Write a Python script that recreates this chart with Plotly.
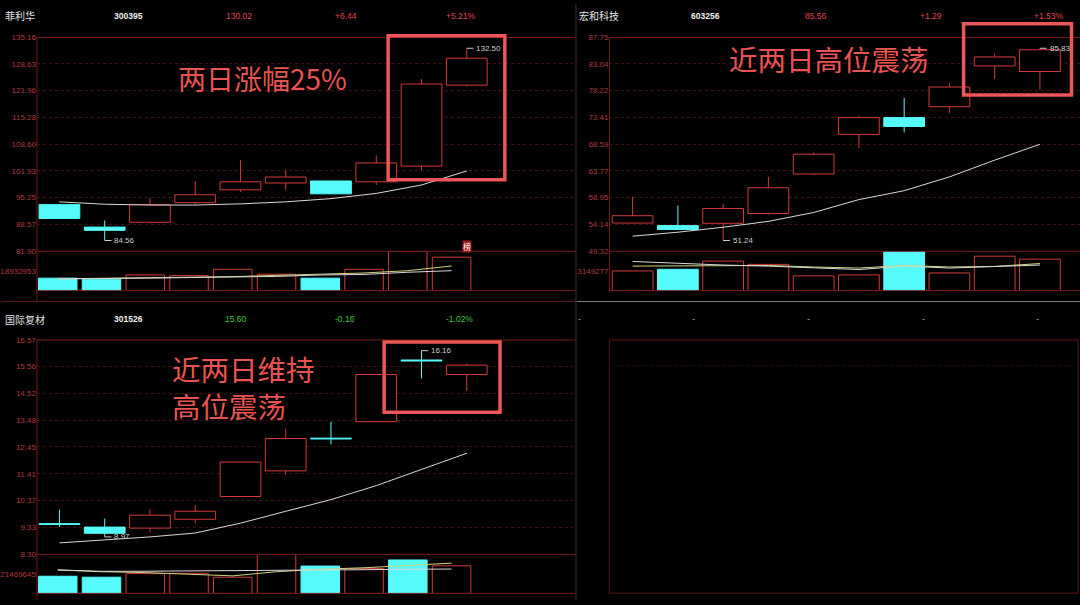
import plotly.graph_objects as go

W, H = 1080, 605

days = list(range(10))

# ---- 菲利华 300395 ----
flh_header = ["菲利华", "300395", "130.02", "+6.44", "+5.21%"]
flh_open  = [93.50, 87.90, 89.10, 94.00, 97.20, 98.90, 99.40, 99.20, 103.10, 123.30]
flh_high  = [93.50, 89.56, 95.20, 99.40, 104.60, 102.10, 99.40, 105.80, 124.80, 132.50]
flh_low   = [90.05, 84.56, 88.80, 93.50, 96.70, 97.20, 96.20, 98.40, 102.10, 123.00]
flh_close = [90.05, 87.09, 93.50, 95.96, 99.20, 100.40, 96.20, 103.90, 123.58, 130.02]
flh_ma    = [94.2, 93.6, 93.4, 93.4, 93.7, 94.2, 95.0, 96.3, 98.4, 101.9]
flh_vol   = [12020000, 11080000, 15150000, 14480000, 20540000, 15810000, 12020000, 20540000, 37860000, 32190000]
flh_vma_w = [11360000, 11500000, 12000000, 12600000, 13000000, 13700000, 15100000, 15600000, 17700000, 19200000]
flh_vma_y = [11360000, 11800000, 12500000, 13250000, 13500000, 14700000, 16100000, 17000000, 19200000, 23700000]
flh_ticks = [81.90, 88.57, 95.25, 101.93, 108.60, 115.28, 121.96, 128.63, 135.16]
flh_vol_tick = 18932953

# ---- 宏和科技 603256 ----
hh_header = ["宏和科技", "603256", "85.56", "+1.29", "+1.53%"]
hh_open  = [54.38, 53.92, 54.33, 56.10, 63.20, 70.33, 73.35, 75.31, 82.65, 81.65]
hh_high  = [59.13, 57.53, 57.88, 62.68, 67.10, 73.70, 76.91, 79.50, 84.91, 85.83]
hh_low   = [54.38, 53.21, 51.24, 55.90, 63.00, 67.84, 70.68, 74.20, 80.34, 78.38]
hh_close = [55.70, 53.21, 57.00, 60.73, 66.77, 73.35, 71.75, 78.86, 84.27, 85.56]
hh_ma    = [52.02, 52.73, 53.62, 54.68, 56.28, 58.60, 60.20, 62.68, 65.70, 68.55]
hh_vol   = [13150000, 14270000, 19720000, 17550000, 9860000, 10520000, 26290000, 11830000, 23010000, 21040000]
hh_vma_w = [19500000, 18100000, 17100000, 16400000, 15450000, 14100000, 16400000, 15100000, 16100000, 17100000]
hh_vma_y = [16400000, 16600000, 16900000, 16800000, 15800000, 15100000, 16800000, 15800000, 16200000, 18100000]
hh_ticks = [49.32, 54.14, 58.95, 63.77, 68.59, 73.41, 78.22, 83.04, 87.75]
hh_vol_tick = 13149277

# ---- 国际复材 301526 ----
gj_header = ["国际复材", "301526", "15.60", "-0.16", "-1.02%"]
gj_open  = [9.45, 9.35, 9.31, 9.65, 10.53, 11.52, 12.77, 13.42, 15.80, 15.24]
gj_high  = [10.02, 9.68, 10.04, 10.19, 11.86, 13.15, 13.42, 15.24, 16.16, 15.66]
gj_low   = [9.35, 8.97, 9.15, 9.50, 10.53, 11.36, 12.54, 13.42, 15.09, 14.60]
gj_close = [9.45, 9.11, 9.81, 9.96, 11.86, 12.77, 12.75, 15.24, 15.76, 15.60]
gj_ma    = [8.74, 8.86, 8.97, 9.12, 9.50, 9.96, 10.41, 10.95, 11.59, 12.20]
gj_vol   = [18890000, 17820000, 21790000, 22110000, 17820000, 42930000, 30060000, 27480000, 36820000, 30380000]
gj_vma_w = [25800000, 24300000, 24400000, 24600000, 24700000, 25000000, 25800000, 26100000, 26600000, 26800000]
gj_vma_y = [25800000, 23900000, 22900000, 21300000, 19300000, 23900000, 26600000, 28200000, 30400000, 33300000]
gj_ticks = [8.30, 9.33, 10.37, 11.41, 12.45, 13.48, 14.52, 15.56, 16.57]
gj_vol_tick = 21469645

# callout texts
note_tl = "两日涨幅25%"
note_tr = "近两日高位震荡"
note_bl = ["近两日维持", "高位震荡"]

# ---------------- style ----------------
RED = "#d23a3a"
CYAN = "#55fafa"
WHITE_LINE = "#d9d9d9"
YELLOW_LINE = "#d2d27c"
TICK_RED = "#b3393a"
FRAME = "#731b1b"
GRID = "#3e1010"
HILITE = "#ec5656"
CALLOUT = "#ea5450"
LABEL = "#cfcfcf"
NUMFONT = "Liberation Sans, Arial, sans-serif"
CJK = "Noto Sans CJK SC, sans-serif"

TL = dict(left=36, right=575, ptop=34, pbot=251, vbot=291, c0=58.5, cstep=45.3, v0=56.8, vstep=43.8)
TR = dict(left=609, right=1080, ptop=34, pbot=251, vbot=291, c0=632.2, cstep=45.3, v0=632.2, vstep=45.3)
BL = dict(left=36, right=575, ptop=341, pbot=558.7, vbot=598.3, c0=58.5, cstep=45.3, v0=56.8, vstep=43.8)

fig = go.Figure()
axes = {}
shapes = []
annots = []


def akey(ref):
    return ("xaxis" if ref[0] == "x" else "yaxis") + ref[1:]


def px(p):
    return p / W


def py(p):
    return 1 - p / H


def hline(y, x0, x1, color, width=1, dash="solid"):
    shapes.append(dict(type="line", xref="paper", yref="paper", x0=px(x0), x1=px(x1),
                       y0=py(y), y1=py(y), line=dict(color=color, width=width, dash=dash), layer="above"))


def vline(x, y0, y1, color, width=1):
    shapes.append(dict(type="line", xref="paper", yref="paper", x0=px(x), x1=px(x),
                       y0=py(y0), y1=py(y1), line=dict(color=color, width=width), layer="above"))


def panel(g, xc, xv, yp, yv, o, h, l, c, ma, vol, vw, vy, ticks, vtick, vbar_w, marks):
    span = ticks[-1] - ticks[0]
    axes[akey(xc)] = dict(domain=[px(g["left"]), px(g["right"])],
                          range=[(g["left"] - g["c0"]) / g["cstep"], (g["right"] - g["c0"]) / g["cstep"]],
                          visible=False, anchor=yp, fixedrange=True)
    if xv != xc:
        axes[akey(xv)] = dict(domain=[px(g["left"]), px(g["right"])],
                              range=[(g["left"] - g["v0"]) / g["vstep"], (g["right"] - g["v0"]) / g["vstep"]],
                              visible=False, anchor=yv, fixedrange=True)
    axes[akey(yp)] = dict(domain=[py(g["pbot"]), py(g["ptop"])],
                          range=[ticks[0] - span * 0.0005, ticks[-1] + span * 0.0005],
                          anchor=xc, tickvals=ticks, ticktext=[f"{t:.2f}" for t in ticks],
                          showgrid=True, gridcolor=GRID, griddash="dot", gridwidth=1,
                          zeroline=False, showline=False, ticks="",
                          tickfont=dict(size=8, color=TICK_RED, family=NUMFONT), fixedrange=True)
    axes[akey(yv)] = dict(domain=[py(g["vbot"]), py(g["pbot"])], range=[0, 2 * vtick],
                          anchor=xv, tickvals=[vtick], ticktext=[str(vtick)],
                          showgrid=False, zeroline=False, showline=False, ticks="",
                          tickfont=dict(size=8, color=TICK_RED, family=NUMFONT), fixedrange=True)

    n = len(o)
    up = [c[i] > o[i] for i in range(n)]
    # wicks
    for flag, col in ((True, RED), (False, CYAN)):
        xs, ys = [], []
        for i in range(n):
            if up[i] != flag:
                continue
            top, bot = max(o[i], c[i]), min(o[i], c[i])
            if h[i] > top:
                xs += [days[i], days[i], None]
                ys += [top, h[i], None]
            if l[i] < bot:
                xs += [days[i], days[i], None]
                ys += [l[i], bot, None]
        fig.add_trace(go.Scatter(x=xs, y=ys, mode="lines", line=dict(color=col, width=1),
                                 xaxis=xc, yaxis=yp, hoverinfo="skip"))
    # bodies and volume
    min_body = span * 0.004
    for flag, fill, col in ((True, "#000000", RED), (False, CYAN, CYAN)):
        sel = [i for i in range(n) if up[i] == flag]
        fig.add_trace(go.Bar(x=[days[i] for i in sel],
                             y=[max(abs(c[i] - o[i]), min_body) for i in sel],
                             base=[min(o[i], c[i]) for i in sel], width=0.9,
                             marker=dict(color=fill, line=dict(color=col, width=1)),
                             xaxis=xc, yaxis=yp, hoverinfo="skip"))
        fig.add_trace(go.Bar(x=[days[i] for i in sel], y=[vol[i] for i in sel], width=vbar_w,
                             marker=dict(color=fill, line=dict(color=col, width=1)),
                             xaxis=xv, yaxis=yv, hoverinfo="skip"))
    # moving averages
    fig.add_trace(go.Scatter(x=days, y=ma, mode="lines", line=dict(color=WHITE_LINE, width=1),
                             xaxis=xc, yaxis=yp, hoverinfo="skip"))
    fig.add_trace(go.Scatter(x=days, y=vy, mode="lines", line=dict(color=YELLOW_LINE, width=1),
                             xaxis=xv, yaxis=yv, hoverinfo="skip"))
    fig.add_trace(go.Scatter(x=days, y=vw, mode="lines", line=dict(color=WHITE_LINE, width=1),
                             xaxis=xv, yaxis=yv, hoverinfo="skip"))
    # high / low marks
    for i, v in marks:
        shapes.append(dict(type="line", xref=xc, yref=yp, x0=days[i], x1=days[i] + 0.15, y0=v, y1=v,
                           line=dict(color=LABEL, width=1)))
        annots.append(dict(xref=xc, yref=yp, x=days[i] + 0.17, y=v, text=f"{v:.2f}", showarrow=False,
                           xanchor="left", yanchor="middle", font=dict(size=8, color=LABEL, family=NUMFONT)))
    # frame lines
    for yy in (g["ptop"], g["pbot"], g["vbot"]):
        hline(yy, g["left"], g["right"], FRAME)


panel(TL, "x", "x2", "y", "y2", flh_open, flh_high, flh_low, flh_close, flh_ma, flh_vol,
      flh_vma_w, flh_vma_y, flh_ticks, flh_vol_tick, 0.88, [(1, flh_low[1]), (9, flh_high[9])])
panel(TR, "x3", "x3", "y3", "y4", hh_open, hh_high, hh_low, hh_close, hh_ma, hh_vol,
      hh_vma_w, hh_vma_y, hh_ticks, hh_vol_tick, 0.9, [(2, hh_low[2]), (9, hh_high[9])])
panel(BL, "x4", "x5", "y5", "y6", gj_open, gj_high, gj_low, gj_close, gj_ma, gj_vol,
      gj_vma_w, gj_vma_y, gj_ticks, gj_vol_tick, 0.88, [(1, gj_low[1]), (8, gj_high[8])])

# axis lines / dividers
vline(36, 34, 302, FRAME)
vline(609, 34, 291, FRAME)
vline(36, 341, 605, FRAME)
hline(302, 0, 575, "#5a1616")
hline(302, 576, 1080, "#7a7a7a")
# mask clipped first digit of right volume label
shapes.append(dict(type="rect", xref="paper", yref="paper", x0=px(560), x1=px(575.5), y0=py(280), y1=py(264),
                   fillcolor="#000000", line=dict(width=0), layer="above"))
vline(575.5, 0, 605, "#4a2a2a")
# empty bottom-right panel
shapes.append(dict(type="rect", xref="paper", yref="paper", x0=px(609), x1=px(1078), y0=py(598), y1=py(341),
                   line=dict(color="#5a1414", width=1), layer="above"))
hline(367, 614, 1075, "#2e0b0b", dash="dot")

# highlight boxes
for x0, x1, y0, y1 in ((387.5, 504.3, 32.3, 178.5), (963.5, 1071.5, 20, 92.5), (383.5, 499.5, 343, 414.5)):
    shapes.append(dict(type="rect", xref="paper", yref="paper", x0=px(x0), x1=px(x1), y0=py(y1), y1=py(y0),
                       line=dict(color=HILITE, width=3.5), layer="above"))


# headers
def header(vals, xs, y, up):
    col = "#e04646" if up else "#3cc83c"
    annots.append(dict(xref="paper", yref="paper", x=px(xs[0]), y=py(y), text=vals[0], showarrow=False,
                       xanchor="left", yanchor="middle", font=dict(size=10, color="#e6e6e6", family=CJK)))
    annots.append(dict(xref="paper", yref="paper", x=px(xs[1]), y=py(y), text="<b>" + vals[1] + "</b>",
                       showarrow=False, xanchor="center", yanchor="middle",
                       font=dict(size=8.5, color="#f0f0f0", family=NUMFONT)))
    for v, xx in zip(vals[2:], xs[2:]):
        annots.append(dict(xref="paper", yref="paper", x=px(xx), y=py(y), text=v, showarrow=False,
                           xanchor="center", yanchor="middle", font=dict(size=8.5, color=col, family=NUMFONT)))


header(flh_header, [2, 128, 238, 345, 460], 12, True)
header(hh_header, [577, 705, 816, 931, 1049], 12, True)
header(gj_header, [2, 128, 235, 344, 459], 320, False)
for xx in (579, 693, 808, 923, 1037):
    annots.append(dict(xref="paper", yref="paper", x=px(xx), y=py(320), text="-", showarrow=False,
                       xanchor="center", yanchor="middle", font=dict(size=9, color="#b0b0b0", family=NUMFONT)))

# 榜 tag
annots.append(dict(xref="x", yref="paper", x=days[9], y=py(246), text="榜", showarrow=False,
                   xanchor="center", yanchor="middle", bgcolor="#a01818", borderpad=0,
                   font=dict(size=8, color="#ffffff", family=CJK)))

# callouts
annots.append(dict(xref="paper", yref="paper", x=px(175), y=py(75), text=note_tl, showarrow=False,
                   xanchor="left", yanchor="middle", font=dict(size=28, color=CALLOUT, family=CJK)))
annots.append(dict(xref="paper", yref="paper", x=px(727), y=py(55), text=note_tr, showarrow=False,
                   xanchor="left", yanchor="middle", font=dict(size=28.5, color=CALLOUT, family=CJK)))
annots.append(dict(xref="paper", yref="paper", x=px(169), y=py(388.5), text="<br>".join(note_bl),
                   showarrow=False, align="left", xanchor="left", yanchor="middle",
                   font=dict(size=28.5, color=CALLOUT, family=CJK)))

fig.update_layout(
    width=W, height=H, margin=dict(l=0, r=0, t=0, b=0),
    paper_bgcolor="#000000", plot_bgcolor="#000000",
    showlegend=False, barmode="overlay", bargap=0,
    font=dict(family=NUMFONT, color="#cccccc"),
    shapes=shapes, annotations=annots,
    **axes,
)

fig.write_html(
    "out.html",
    config={"displayModeBar": False, "staticPlot": True},
    post_script="document.body.style.margin='0';document.body.style.padding='0';"
                "document.body.style.overflow='hidden';document.body.style.background='#000';",
)
